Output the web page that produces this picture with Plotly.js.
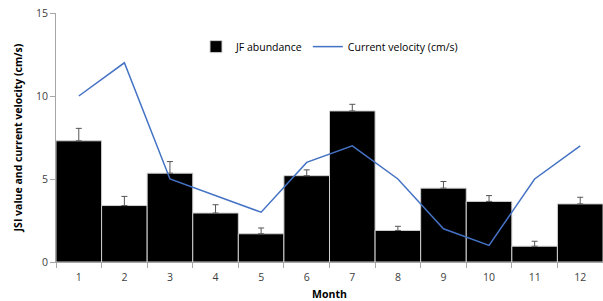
<!DOCTYPE html>
<html><head><meta charset="utf-8">
<script src="https://cdn.plot.ly/plotly-3.0.1.min.js"></script>
<style>body{margin:0;padding:0;background:#fff}#chart{width:603px;height:301px}</style>
</head><body><div id="chart"></div>
<script>
const months = ['1','2','3','4','5','6','7','8','9','10','11','12'];
const jfAbundance = [7.3, 3.4, 5.35, 2.95, 1.7, 5.2, 9.1, 1.9, 4.45, 3.65, 0.95, 3.5];
const jfError = [0.75, 0.55, 0.7, 0.5, 0.35, 0.35, 0.4, 0.25, 0.4, 0.35, 0.3, 0.4];
const velocity = [10, 12, 5, 4, 3, 6, 7, 5, 2, 1, 5, 7];
const yTicks = [0, 5, 10, 15];

const traces = [
  {type:'bar', x:months, y:jfAbundance, name:'JF abundance',
   marker:{color:'#000000', line:{color:'#d0d0d0', width:1}},
   error_y:{type:'data', array:jfError, arrayminus:jfError.map(()=>0), symmetric:false, visible:true, color:'#555555', thickness:1, width:3}},
  {type:'scatter', mode:'lines', x:months, y:velocity, name:'Current velocity (cm/s)',
   line:{color:'#4472C4', width:1.5}}
];
const layout = {
  width:603, height:301,
  margin:{l:56, r:0, t:13, b:39},
  paper_bgcolor:'#fff', plot_bgcolor:'#fff',
  font:{family:'Open Sans, Liberation Sans, sans-serif', size:10.5, color:'#404040'},
  bargap:0,
  showlegend:true,
  legend:{orientation:'h', x:0.5, xanchor:'center', y:0.865, yanchor:'middle', font:{size:10.5, color:'#000'}, bgcolor:'rgba(0,0,0,0)'},
  xaxis:{type:'category', showline:true, linecolor:'#a6a6a6', linewidth:1, ticks:'outside', tickson:'boundaries', ticklen:5, tickcolor:'#a6a6a6', showgrid:false, zeroline:false, ticklabelstandoff:5,
    title:{text:'<b>Month</b>', font:{size:10.5, color:'#000'}, standoff:8}},
  yaxis:{range:[0,15], tickvals:yTicks, showline:true, linecolor:'#a6a6a6', linewidth:1, ticks:'outside', ticklen:5, tickcolor:'#a6a6a6', showgrid:false, zeroline:false,
    title:{text:'<b>JSI value and current velocity (cm/s)</b>', font:{size:10.5, color:'#000'}, standoff:11}}
};
Plotly.newPlot('chart', traces, layout, {displayModeBar:false, staticPlot:true});
</script></body></html>
